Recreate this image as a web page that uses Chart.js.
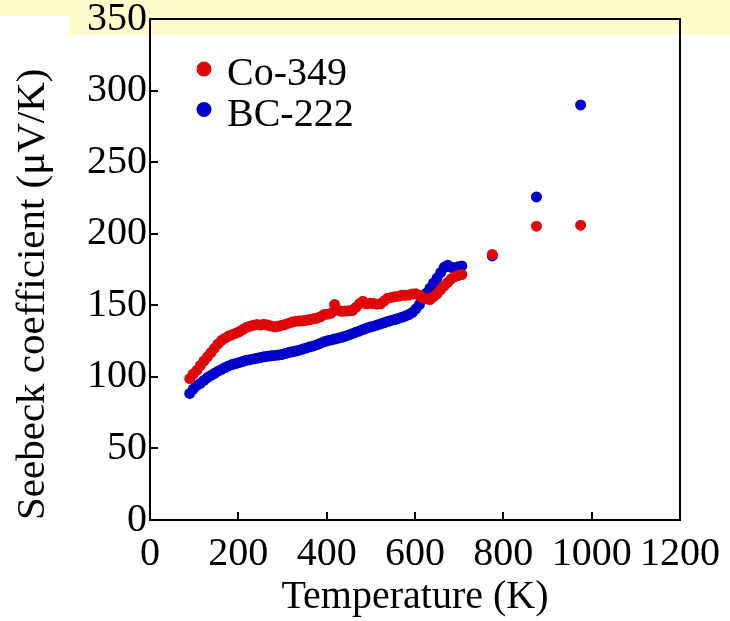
<!DOCTYPE html>
<html>
<head>
<meta charset="utf-8">
<script src="https://cdn.jsdelivr.net/npm/chart.js@4.4.1/dist/chart.umd.min.js"></script>
<style>
  html, body { margin: 0; padding: 0; background: #fff; }
</style>
</head>
<body>
<canvas id="seebeckChart" width="730" height="621"></canvas>
<script>
// temperatures (K) of the measured points
const temps = [90, 98, 106, 114, 122, 130, 138, 146, 154, 162, 170, 178, 186, 194, 202, 210, 218, 226, 234, 242,
  250, 258, 266, 274, 282, 290, 298, 306, 314, 322, 330, 338, 346, 354, 362, 370, 378, 386, 394, 402,
  410, 418, 426, 434, 442, 450, 458, 466, 474, 482, 490, 498, 506, 514, 522, 530, 538, 546, 554, 562,
  570, 578, 586, 594, 602, 610, 618, 626, 634, 642, 650, 658, 666, 674, 682, 690, 698, 706, 775, 875, 975]

// Seebeck coefficient (uV/K)
const co349 = [98.8, 102, 104.5, 108, 111, 114, 117, 120, 123, 125.5, 127, 128.5, 129.5, 130.5, 131.5, 133, 134.5, 135.4, 136, 136.5,
  136.3, 136.8, 136.2, 135.5, 135, 135.3, 136, 136.6, 137.5, 138.3, 138.9, 139, 139.2, 139.5, 140, 140.6, 141, 142, 143.5, 143.8,
  144.5, 150.5, 146.5, 145.8, 146, 146.2, 146.3, 148.5, 151, 152.8, 151, 151.5, 151.2, 150.8, 151, 153, 155, 155.5, 156, 156.3,
  157, 157, 157.2, 157.8, 158, 157, 155, 154.5, 154, 156, 158, 161, 163.5, 166, 168.5, 170, 170.8, 171.5, 185.5, 205.3, 206]

const bc222 = [88.4, 91.5, 94, 95.5, 97.5, 99.5, 101, 102.5, 104, 105.2, 106.5, 107.6, 108.6, 109.3, 110, 110.8, 111.6, 112, 112.5, 113,
  113.5, 114, 114.4, 114.7, 115, 115.2, 115.6, 116.3, 117, 117.5, 118, 118.6, 119.4, 120.2, 121, 121.6, 122.5, 123.5, 124.5, 125.3,
  125.8, 126.4, 127, 127.6, 128.4, 129.3, 130.2, 131.2, 132, 133, 134, 134.8, 135.4, 136.2, 137, 137.8, 138.6, 139.4, 140, 140.8,
  141.6, 142.5, 143.5, 145, 147.5, 150.5, 155, 158.5, 162, 165.5, 169, 172.8, 176.5, 178, 176.5, 176, 177, 177.5, 184.5, 225.7, 290]

const xTicks = [0, 200, 400, 600, 800, 1000, 1200]
const yTicks = [0, 50, 100, 150, 200, 250, 300, 350]

const serif = "'Liberation Serif', 'Times New Roman', serif"
const red = 'rgb(222, 8, 8)'
const blue = 'rgb(0, 0, 204)'

const pts = (xs, ys) => xs.map((x, i) => ({ x: x, y: ys[i] }))

// yellow band behind the top of the picture
const bgPlugin = {
  id: 'bg',
  beforeDraw(chart) {
    const ctx = chart.ctx
    ctx.save()
    ctx.fillStyle = '#fff'
    ctx.fillRect(0, 0, chart.width, chart.height)
    ctx.fillStyle = '#fffdcc'
    ctx.fillRect(0, 0, chart.width, 16)
    ctx.fillRect(69, 0, chart.width - 69, 35)
    ctx.restore()
  }
}

// box around the plot and inward tick marks
const framePlugin = {
  id: 'frame',
  afterDatasetsDraw(chart) {
    const { ctx, chartArea: a, scales } = chart
    ctx.save()
    ctx.strokeStyle = '#000'
    ctx.lineWidth = 2
    ctx.strokeRect(a.left, a.top, a.right - a.left, a.bottom - a.top)
    ctx.beginPath()
    xTicks.slice(1, -1).forEach(v => {
      const px = Math.round(scales.x.getPixelForValue(v))
      ctx.moveTo(px, a.bottom)
      ctx.lineTo(px, a.bottom - 8)
    })
    yTicks.slice(1, -1).forEach(v => {
      const py = Math.round(scales.y.getPixelForValue(v))
      ctx.moveTo(a.left, py)
      ctx.lineTo(a.left + 8, py)
    })
    ctx.stroke()
    ctx.restore()
  }
}

// legend inside the plot, top left
const legendPlugin = {
  id: 'innerLegend',
  afterDraw(chart) {
    const { ctx, chartArea: a } = chart
    ctx.save()
    ctx.font = '40px ' + serif
    ctx.textAlign = 'left'
    ctx.textBaseline = 'alphabetic'
    chart.data.datasets.forEach((ds, i) => {
      const y = a.top + 50 + i * 40.5
      ctx.fillStyle = ds.backgroundColor
      ctx.beginPath()
      ctx.arc(a.left + 54, y, 7.5, 0, Math.PI * 2)
      ctx.fill()
      ctx.fillStyle = '#000'
      ctx.fillText(ds.label, a.left + 77, y + 16)
    })
    ctx.restore()
  }
}

new Chart(document.getElementById('seebeckChart'), {
  type: 'scatter',
  data: {
    datasets: [
      { label: 'Co-349', data: pts(temps, co349), backgroundColor: red, borderWidth: 0, pointRadius: 5.5, order: 0 },
      { label: 'BC-222', data: pts(temps, bc222), backgroundColor: blue, borderWidth: 0, pointRadius: 5.5, order: 1 }
    ]
  },
  options: {
    responsive: false,
    animation: false,
    layout: { padding: { top: 16, right: 49, left: 0, bottom: 0 } },
    plugins: {
      legend: { display: false },
      tooltip: { enabled: false }
    },
    scales: {
      x: {
        type: 'linear',
        min: 0,
        max: 1200,
        afterBuildTicks: s => { s.ticks = xTicks.map(v => ({ value: v })) },
        afterFit: s => { s.height = 101 },
        grid: { display: false, drawTicks: false },
        border: { display: false },
        ticks: {
          autoSkip: false,
          maxRotation: 0,
          padding: 10,
          color: '#000',
          font: { family: serif, size: 40 },
          callback: v => String(v)
        },
        title: {
          display: true,
          text: 'Temperature (K)',
          color: '#000',
          font: { family: serif, size: 40 },
          padding: { top: 0, bottom: 0 }
        }
      },
      y: {
        type: 'linear',
        min: 0,
        max: 350,
        afterBuildTicks: s => { s.ticks = yTicks.map(v => ({ value: v })) },
        afterFit: s => { s.width = 150 },
        grid: { display: false, drawTicks: false },
        border: { display: false },
        ticks: {
          padding: 3,
          color: '#000',
          font: { family: serif, size: 40, lineHeight: 0.8 },
          callback: v => String(v)
        },
        title: {
          display: true,
          text: 'Seebeck coefficient (μV/K)',
          align: 'start',
          color: '#000',
          font: { family: serif, size: 41 },
          padding: { top: 9, bottom: 0 }
        }
      }
    }
  },
  plugins: [bgPlugin, framePlugin, legendPlugin]
})
</script>
</body>
</html>
